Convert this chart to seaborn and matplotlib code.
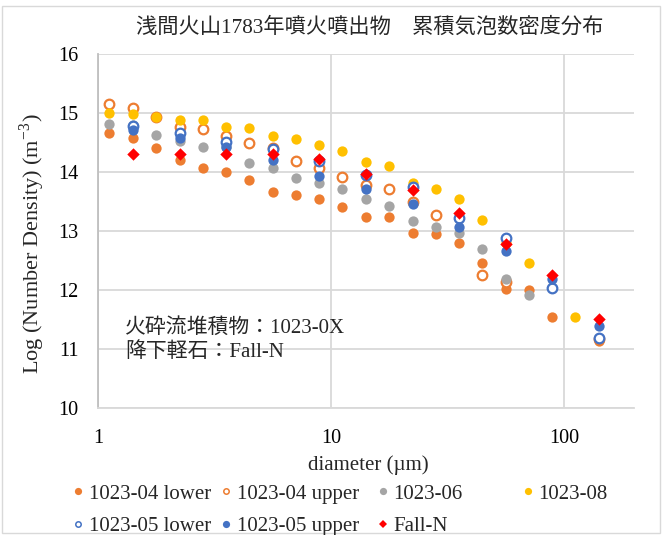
import numpy as np
import pandas as pd
import matplotlib
matplotlib.use("Agg")
import matplotlib.pyplot as plt
import seaborn as sns
from matplotlib.patches import Rectangle
from matplotlib.lines import Line2D

nan = np.nan

# ---- data ----
diameter = [1.12, 1.41, 1.78, 2.24, 2.82, 3.55, 4.47, 5.62, 7.08, 8.91, 11.2,
            14.1, 17.8, 22.4, 28.2, 35.5, 44.7, 56.2, 70.8, 89.1, 112, 141]

s1023_04_lower = [14.66, 14.58, 14.41, 14.20, 14.07, 14.00, 13.86, 13.66, 13.61, 13.54, 13.41,
                  13.24, 13.24, 12.97, 12.95, 12.79, 12.45, 12.02, 12.00, 11.54, nan, 11.14]
s1023_04_upper = [15.15, 15.08, 14.93, 14.76, 14.73, 14.61, 14.49, 14.41, 14.19, 14.07, 13.92,
                  13.78, 13.71, 13.49, 13.27, nan, 12.25, 12.14, nan, nan, nan, 11.17]
s1023_06 = [14.81, 14.80, 14.63, 14.52, 14.42, 14.42, 14.15, 14.07, 13.90, 13.81, 13.71,
            13.54, 13.42, 13.17, 13.06, 12.97, 12.70, 12.19, 11.91, nan, nan, nan]
s1023_08 = [15.00, 14.98, 14.93, 14.88, 14.88, 14.76, 14.75, 14.61, 14.56, 14.46, 14.36,
            14.17, 14.10, 13.81, 13.71, 13.54, 13.19, 12.80, 12.46, 12.03, 11.54, nan]
s1023_05_lower = [nan, 14.78, nan, 14.66, nan, 14.51, nan, 14.39, nan, 14.19, nan,
                  13.95, nan, 13.74, nan, 13.22, nan, 12.88, nan, 12.03, nan, 11.19]
s1023_05_upper = [nan, 14.72, nan, 14.58, nan, 14.42, nan, 14.20, nan, 13.93, nan,
                  13.71, nan, 13.46, nan, 13.07, nan, 12.66, nan, 12.19, nan, 11.39]
fall_n = [nan, 14.30, nan, 14.30, nan, 14.30, nan, 14.30, nan, 14.22, nan,
          13.97, nan, 13.70, nan, 13.30, nan, 12.78, nan, 12.25, nan, 11.51]

series_names = ["1023-04 lower", "1023-04 upper", "1023-06", "1023-08",
                "1023-05 lower", "1023-05 upper", "Fall-N"]
series_values = [s1023_04_lower, s1023_04_upper, s1023_06, s1023_08,
                 s1023_05_lower, s1023_05_upper, fall_n]

title = "浅間火山1783年噴火噴出物　累積気泡数密度分布"
note1 = "火砕流堆積物：1023-0X"
note2 = "降下軽石：Fall-N"
x_ticks = [1, 10, 100]
x_tick_labels = ["1", "10", "100"]
y_ticks = [10, 11, 12, 13, 14, 15, 16]

# ---- style ----
sns.set_theme(style="white")
serif_cjk = ["Liberation Serif", "Noto Sans CJK JP"]
plt.rcParams["font.family"] = serif_cjk
plt.rcParams["mathtext.fontset"] = "stix"

ORANGE = "#ED7D31"
GRAY = "#A5A5A5"
YELLOW = "#FFC000"
BLUE = "#4472C4"
RED = "#FF0000"

styles = [
    dict(color=ORANGE, edgecolor=ORANGE, marker="o", s=55, linewidth=0),
    dict(color="white", edgecolor=ORANGE, marker="o", s=48, linewidth=1.6),
    dict(color=GRAY, edgecolor=GRAY, marker="o", s=55, linewidth=0),
    dict(color=YELLOW, edgecolor=YELLOW, marker="o", s=55, linewidth=0),
    dict(color="white", edgecolor=BLUE, marker="o", s=48, linewidth=1.6),
    dict(color=BLUE, edgecolor=BLUE, marker="o", s=55, linewidth=0),
    dict(color=RED, edgecolor=RED, marker="D", s=40, linewidth=0),
]

W, H = 662, 535
fig = plt.figure(figsize=(W / 100, H / 100), dpi=100)
fig.patch.set_facecolor("white")
ax = fig.add_axes([98 / W, 1 - 408 / H, (634 - 98) / W, (408 - 54) / H])

for name, vals, st in zip(series_names, series_values, styles):
    df = pd.DataFrame({"diameter": diameter, "value": vals}).dropna()
    sns.scatterplot(data=df, x="diameter", y="value", ax=ax, legend=False, **st)

ax.set_xscale("log")
ax.set_xlim(1, 200)
ax.set_ylim(10, 16)
ax.set_xticks(x_ticks)
ax.set_xticklabels(x_tick_labels)
ax.xaxis.set_minor_locator(matplotlib.ticker.NullLocator())
ax.set_yticks(y_ticks)
ax.set_yticklabels([str(v) for v in y_ticks])
ax.tick_params(axis="both", length=0, labelsize=14.5, colors="#000000")
ax.tick_params(axis="x", pad=15)
ax.tick_params(axis="y", pad=14)
ax.grid(True, which="major", color="#D9D9D9", linewidth=1.3)
ax.set_axisbelow(True)
for sp in ["top", "right"]:
    ax.spines[sp].set_visible(False)
ax.spines["left"].set_color("#BFBFBF")
ax.spines["left"].set_linewidth(1.3)
ax.spines["bottom"].set_color("#D9D9D9")
ax.spines["bottom"].set_linewidth(1.3)
ax.set_xlabel("")
ax.set_ylabel("")

# texts
fig.text(370 / W, 1 - 28 / H, title, ha="center", va="center", fontsize=15.3,
         family=serif_cjk)
fig.text(368 / W, 1 - 465 / H, "diameter (µm)", ha="center", va="center", fontsize=15)
fig.text(32 / W, 1 - 244 / H, "Log (Number Density) (m$^{\\mathregular{-3}}$)",
         ha="center", va="center", rotation=90, fontsize=16)
fig.text(125 / W, 1 - 328 / H, note1, ha="left", va="center", fontsize=15, family=serif_cjk)
fig.text(125 / W, 1 - 352 / H, note2, ha="left", va="center", fontsize=15, family=serif_cjk)

# legend: one entry per cell, placed as in the reference layout
def legend_handle(st):
    hollow = st["color"] == "white"
    return Line2D([], [], linestyle="none", marker=st["marker"],
                  markersize=4.2 if st["marker"] == "D" else (3.9 if hollow else 5.2),
                  markerfacecolor=st["color"], markeredgecolor=st["edgecolor"],
                  markeredgewidth=1.1 if hollow else 0)

cell_x = [78, 226, 383, 528, 78, 226, 383]
cell_y = [494, 494, 494, 494, 526, 526, 526]
for name, st, cx, cy in zip(series_names, styles, cell_x, cell_y):
    fig.legend([legend_handle(st)], [name], loc="center left",
               bbox_to_anchor=((cx - 6) / W, 1 - cy / H),
               frameon=False, fontsize=15,
               handlelength=0.55, handletextpad=0.25,
               borderpad=0, borderaxespad=0)

# chart border
fig.add_artist(Rectangle((2 / W, 2 / H), (W - 4) / W, (H - 8) / H, transform=fig.transFigure,
                         fill=False, edgecolor="#D9D9D9", linewidth=1))

fig.savefig("out.png", dpi=100)
